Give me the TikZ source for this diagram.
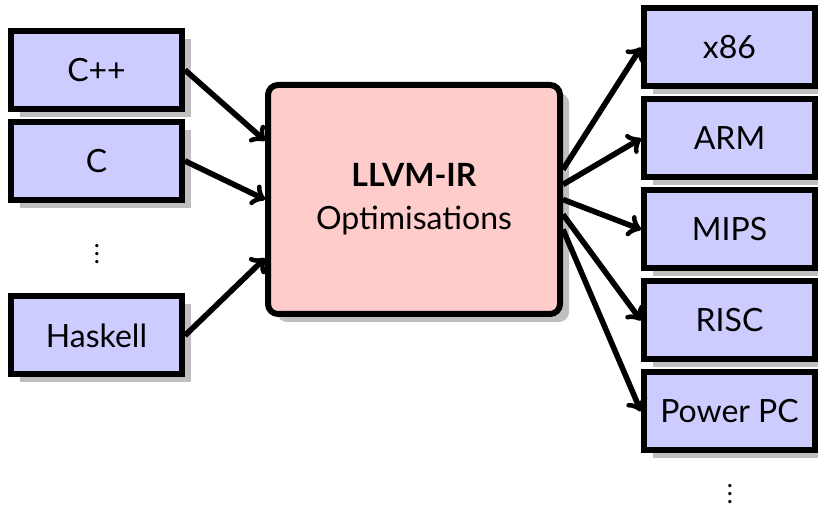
\documentclass[tikz,border=0pt]{standalone}
\usepackage{fontspec}
\setmainfont{Lato}
\usetikzlibrary{calc,shadows}
\tikzset{
  box/.style={draw, line width=3pt, fill=blue!20, minimum width=85.5pt,
    minimum height=39pt, inner sep=0pt,
    drop shadow={shadow xshift=4.5pt, shadow yshift=-4pt, fill=black!25, opacity=1}},
  conn/.style={->, line width=2.8pt},
  more/.style={inner sep=0pt, font=\fontsize{13}{15}\selectfont}
}
\begin{document}
\begin{tikzpicture}[x=0.5pt, y=-0.5pt, font=\fontsize{16}{21.5}\selectfont]
  \useasboundingbox (0,0) rectangle (818,506);
  \node[box] (cpp) at (96.5,70) {C++};
  \node[box] (c) at (96.5,161) {C};
  \node[more] (ldots) at (97,248) {$\vdots$};
  \node[box] (hs) at (96.5,335.5) {Haskell};
  \node[box, fill=red!20, rounded corners=5pt, minimum width=146pt,
    minimum height=114.5pt, align=center] (ir) at (414,199.5)
    {\textbf{LLVM-IR}\\Optimisations};
  \node[box] (x86) at (729.5,47.5) {x86};
  \node[box] (arm) at (729.5,138.5) {ARM};
  \node[box] (mips) at (729.5,229.5) {MIPS};
  \node[box] (risc) at (729.5,320.5) {RISC};
  \node[box] (ppc) at (729.5,411.5) {Power PC};
  \node[more] (rdots) at (730,488) {$\vdots$};
  \draw[conn] (cpp.east) -- ($(ir.north west)!0.25!(ir.south west)$);
  \draw[conn] (c.east) -- ($(ir.north west)!0.5!(ir.south west)$);
  \draw[conn] (hs.east) -- ($(ir.north west)!0.75!(ir.south west)$);
  \foreach \t/\k in {x86/-30, arm/-15, mips/0, risc/15, ppc/30}
    \draw[conn] ($(ir.east)+(0,\k)$) -- (\t.west);
\end{tikzpicture}
\end{document}
